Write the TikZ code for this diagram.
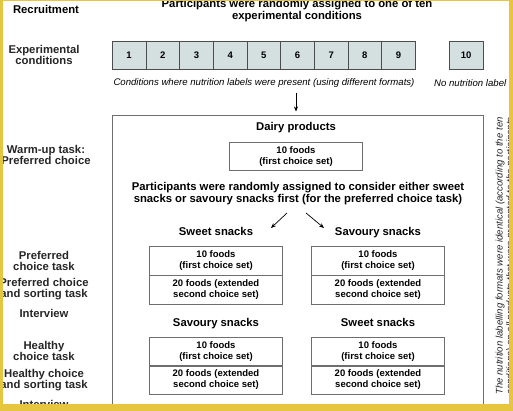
\documentclass[tikz,border=0pt]{standalone}
\usepackage{fontspec}
\setmainfont{Liberation Sans}
\usetikzlibrary{arrows.meta,calc}
\definecolor{frameyellow}{RGB}{230,198,62}
\definecolor{condfill}{RGB}{212,223,223}
\definecolor{lineg}{RGB}{110,110,110}
\newcommand\hdfont{\fontsize{11.3}{11.6}\selectfont\bfseries}
\newcommand\bxfont{\fontsize{9.5}{11.2}\selectfont\bfseries}
\newcommand\itfont{\fontsize{9.6}{11}\selectfont\itshape}
\tikzset{
  hd/.style={font=\hdfont, align=center, inner sep=0pt},
  hdone/.style={font=\hdfont, inner sep=0pt, anchor=base},
  sidelab/.style={font=\hdfont, align=center, inner sep=0pt, text=black!85},
  cond/.style={draw=black!70, fill=condfill, line width=0.6pt, minimum width=33.67pt, minimum height=28pt, inner sep=0pt, font=\bxfont},
  part/.style={draw=lineg, line width=0.6pt, minimum width=133pt, inner sep=0pt, font=\bxfont, align=center},
  arr/.style={-{Stealth[length=5pt,width=4pt]}, line width=0.7pt, black},
}
\begin{document}
\begin{tikzpicture}[x=1pt,y=-1pt]
\useasboundingbox (0,0) rectangle (513,411);
\clip (0,0) rectangle (513,411);
\fill[white] (0,0) rectangle (513,411);

% top line
\node[hdone] (recr) at (46,14) {Recruitment};
\node[hd] (assign0) at (297,10.5) {Participants were randomly assigned to one of ten\\experimental conditions};

% experimental conditions
\node[sidelab] (explab) at (44,55) {Experimental\\conditions};
\foreach \i in {1,...,9} {
  \node[cond, anchor=north west] (cond\i) at ({112+(\i-1)*33.67},41) {\i};
}
\node[cond, anchor=north west] (cond10) at (449,41) {10};
\node[font=\itfont, inner sep=0pt] (condtxt) at (264,83) {Conditions where nutrition labels were present (using different formats)};
\node[font=\itfont, inner sep=0pt, anchor=west] (nolab) at (434,83) {No nutrition label};

% big box
\draw[draw=lineg, line width=0.7pt] (112,115.5) rectangle (483,430);
\coordinate (boxtop) at (296,115.5);
\draw[arr, shorten >=4pt] (condtxt.south -| boxtop) ++(0,5) -- (boxtop);

% warm-up
\node[sidelab] (warm) at (46,155) {Warm-up task:\\Preferred choice};
\node[hdone] (dairy) at (296,131) {Dairy products};
\node[part, minimum height=28.5pt, anchor=north] (dairybox) at (296,142) {10 foods\\(first choice set)};

\node[hd] (assign) at (298,193.5) {Participants were randomly assigned to consider either sweet\\snacks or savoury snacks first (for the preferred choice task)};
\coordinate (a1s) at (287,213);
\coordinate (a1e) at (271,228);
\coordinate (a2s) at (306,213);
\coordinate (a2e) at (324,228);
\draw[arr] (a1s) -- (a1e);
\draw[arr] (a2s) -- (a2e);

% first pair
\node[hdone] (sw1) at (216,235.5) {Sweet snacks};
\node[hdone] (sv1) at (378,235.5) {Savoury snacks};
\node[part, minimum height=28.5pt, anchor=north] (sw1a) at (216,246) {10 foods\\(first choice set)};
\node[part, minimum height=28.5pt, anchor=north] (sw1b) at (sw1a.south) {20 foods (extended\\second choice set)};
\node[part, minimum height=28.5pt, anchor=north] (sv1a) at (378,246) {10 foods\\(first choice set)};
\node[part, minimum height=28.5pt, anchor=north] (sv1b) at (sv1a.south) {20 foods (extended\\second choice set)};

% second pair
\node[hdone] (sv2) at (216,326) {Savoury snacks};
\node[hdone] (sw2) at (378,326) {Sweet snacks};
\node[part, minimum height=28pt, anchor=north] (sv2a) at (216,337) {10 foods\\(first choice set)};
\node[part, minimum height=28pt, anchor=north] (sv2b) at (sv2a.south) {20 foods (extended\\second choice set)};
\node[part, minimum height=28pt, anchor=north] (sw2a) at (378,337) {10 foods\\(first choice set)};
\node[part, minimum height=28pt, anchor=north] (sw2b) at (sw2a.south) {20 foods (extended\\second choice set)};

% side labels
\node[sidelab] (pct) at (44,261) {Preferred\\choice task};
\node[sidelab] (pcs) at (44,289) {Preferred choice\\and sorting task};
\node[sidelab] (int1) at (44,313) {Interview};
\node[sidelab] (hct) at (44,351) {Healthy\\choice task};
\node[sidelab] (hcs) at (44,380) {Healthy choice\\and sorting task};
\node[sidelab] (int2) at (44,404.5) {Interview};

% rotated note
\node[font=\fontsize{9.6}{10.5}\selectfont\itshape, align=center, inner sep=0pt, rotate=90, text=black!85] (note) at (505.5,256)
  {The nutrition labelling formats were identical (according to the ten\\conditions) on all products that were presented to the participants};

% yellow frame
\fill[frameyellow] (0,0) rectangle (3,411);
\fill[frameyellow] (0,0) rectangle (513,1.5);
\fill[frameyellow] (508.5,0) rectangle (513,411);
\fill[frameyellow] (0,404) rectangle (513,411);
\end{tikzpicture}
\end{document}
